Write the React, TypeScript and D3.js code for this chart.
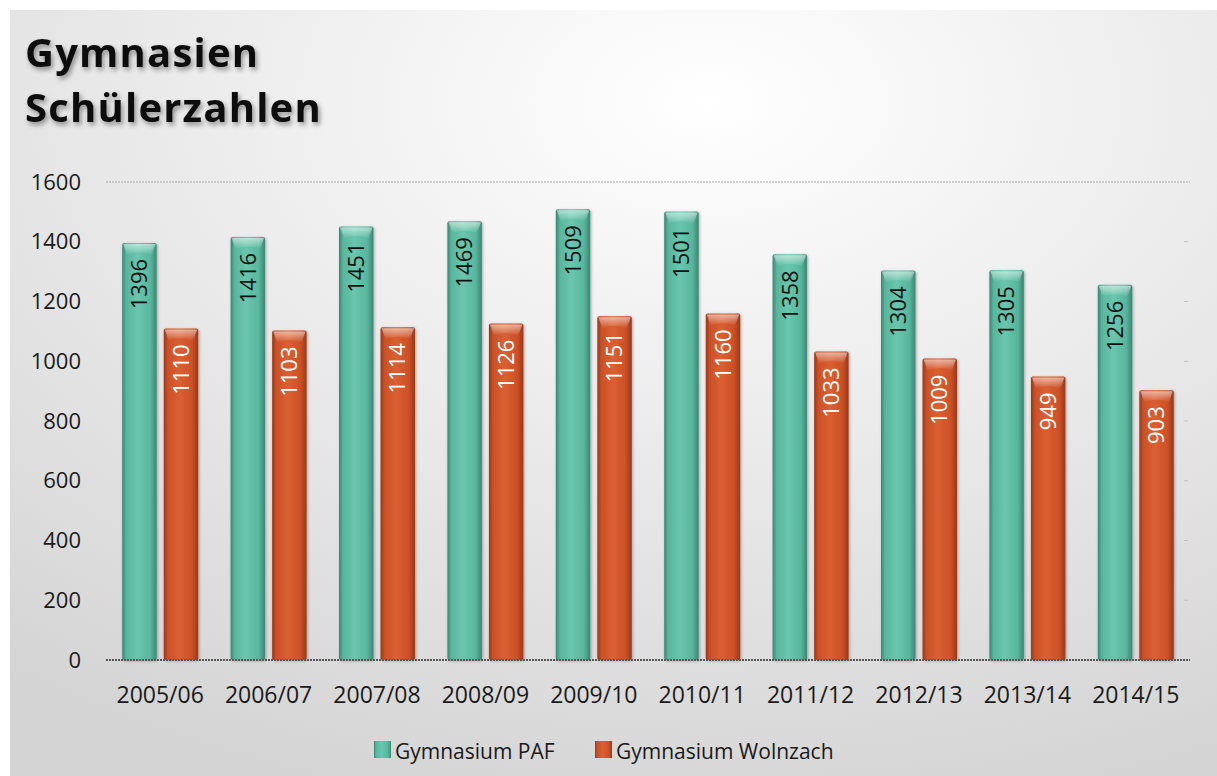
import { useEffect, useRef } from 'react';
import * as d3 from 'd3';

const categories = ['2005/06', '2006/07', '2007/08', '2008/09', '2009/10', '2010/11', '2011/12', '2012/13', '2013/14', '2014/15'];
const seriesNames = ['Gymnasium PAF', 'Gymnasium Wolnzach'];
const pafValues = [1396, 1416, 1451, 1469, 1509, 1501, 1358, 1304, 1305, 1256];
const wolnzachValues = [1110, 1103, 1114, 1126, 1151, 1160, 1033, 1009, 949, 903];
const yTicks = [0, 200, 400, 600, 800, 1000, 1200, 1400, 1600];

const W = 1217;
const H = 776;
const FONT = '"Open Sans", "DejaVu Sans", sans-serif';

const App = () => {
    const svgRef = useRef<SVGSVGElement | null>(null);

    useEffect(() => {
        if (!svgRef.current) return;
        document.body.style.margin = '0';
        const svg = d3.select(svgRef.current);
        svg.selectAll('*').remove();

        const defs = svg.append('defs');

        // panel background
        const bg = defs.append('radialGradient').attr('id', 'bg')
            .attr('cx', '58%').attr('cy', '12%').attr('r', '95%');
        bg.append('stop').attr('offset', '0%').attr('stop-color', '#ffffff');
        bg.append('stop').attr('offset', '100%').attr('stop-color', '#d4d4d4');

        const barGrad = (id: string, dark: string, mid: string, light: string) => {
            const g = defs.append('linearGradient').attr('id', id)
                .attr('x1', '0%').attr('x2', '100%').attr('y1', '0%').attr('y2', '0%');
            [[0, dark], [0.12, mid], [0.45, light], [0.82, mid], [1, dark]].forEach(([o, c]) => {
                g.append('stop').attr('offset', o as number).attr('stop-color', c as string);
            });
        };
        barGrad('gPaf', '#3a8673', '#58b69d', '#6ac6ae');
        barGrad('gWol', '#9a3818', '#cc5027', '#da6032');

        const cap = defs.append('linearGradient').attr('id', 'cap')
            .attr('x1', '0').attr('x2', '0').attr('y1', '0').attr('y2', '1');
        cap.append('stop').attr('offset', 0).attr('stop-color', '#ffffff').attr('stop-opacity', 0.55);
        cap.append('stop').attr('offset', 1).attr('stop-color', '#ffffff').attr('stop-opacity', 0);

        const shadow = defs.append('filter').attr('id', 'tshadow')
            .attr('x', '-10%').attr('y', '-20%').attr('width', '130%').attr('height', '150%');
        shadow.append('feDropShadow').attr('dx', 2).attr('dy', 3).attr('stdDeviation', 2.5)
            .attr('flood-color', '#000').attr('flood-opacity', 0.4);

        const bshadow = defs.append('filter').attr('id', 'bshadow')
            .attr('x', '-30%').attr('y', '-5%').attr('width', '160%').attr('height', '110%');
        bshadow.append('feDropShadow').attr('dx', 1).attr('dy', 1).attr('stdDeviation', 1.5)
            .attr('flood-color', '#000').attr('flood-opacity', 0.3);

        svg.append('rect').attr('width', W).attr('height', H).attr('fill', '#fff');
        svg.append('rect').attr('x', 10).attr('y', 10).attr('width', W - 10).attr('height', H - 10)
            .attr('fill', 'url(#bg)');

        // title
        const title = svg.append('text').attr('x', 25).attr('font-family', FONT)
            .attr('font-weight', 700).attr('font-size', 40).attr('letter-spacing', 1.2)
            .attr('fill', '#111').attr('filter', 'url(#tshadow)');
        title.append('tspan').attr('x', 25).attr('y', 67).text('Gymnasien');
        title.append('tspan').attr('x', 25).attr('y', 122).text('Schülerzahlen');

        const x0 = d3.scaleBand().domain(categories).range([106, 1190]);
        const x1 = d3.scaleBand().domain(seriesNames)
            .range([x0.bandwidth() / 2 - 38, x0.bandwidth() / 2 + 38]).paddingInner(0.17);
        const y = d3.scaleLinear().domain([0, 1600]).range([660, 182]);

        // top gridline
        svg.append('line').attr('x1', 106).attr('x2', 1190)
            .attr('y1', y(1600)).attr('y2', y(1600))
            .attr('stroke', '#a8a8a8').attr('stroke-width', 1).attr('stroke-dasharray', '2,1');

        // small right tick marks
        svg.append('g').selectAll('line').data(yTicks.filter(t => t > 0 && t < 1600)).join('line')
            .attr('x1', 1184).attr('x2', 1188)
            .attr('y1', d => y(d)).attr('y2', d => y(d))
            .attr('stroke', '#c0c0c0').attr('stroke-width', 1);

        // y tick labels
        svg.append('g').selectAll('text').data(yTicks).join('text')
            .attr('x', 81).attr('y', d => y(d)).attr('dy', '0.35em')
            .attr('text-anchor', 'end').attr('font-family', FONT).attr('font-size', 22)
            .attr('fill', '#1a1a1a').text(d => d);

        const rows = categories.map((c, i) => ({ c, vals: [pafValues[i], wolnzachValues[i]] }));

        const groups = svg.append('g').selectAll('g').data(rows).join('g')
            .attr('transform', d => `translate(${x0(d.c)},0)`);

        const bars = groups.selectAll('g.bar')
            .data(d => d.vals.map((v, j) => ({ name: seriesNames[j], v, j })))
            .join('g').attr('class', 'bar');

        bars.append('rect')
            .attr('x', d => x1(d.name)!).attr('y', d => y(d.v))
            .attr('width', x1.bandwidth()).attr('height', d => y(0) - y(d.v))
            .attr('rx', 2)
            .attr('fill', d => d.j === 0 ? 'url(#gPaf)' : 'url(#gWol)')
            .attr('filter', 'url(#bshadow)');

        bars.append('path')
            .attr('d', d => {
                const bx = x1(d.name)!;
                const bw = x1.bandwidth();
                const top = y(d.v);
                return `M${bx + 1},${top + 1} L${bx + bw - 1},${top + 1} L${bx + bw - 5},${top + 12} Q${bx + bw / 2},${top + 7} ${bx + 5},${top + 12} Z`;
            })
            .attr('fill', 'url(#cap)');

        bars.append('text')
            .attr('transform', d => `translate(${x1(d.name)! + x1.bandwidth() / 2},${y(d.v) + 16}) rotate(-90)`)
            .attr('text-anchor', 'end').attr('dy', '0.35em')
            .attr('font-family', FONT).attr('font-size', 22)
            .attr('fill', d => d.j === 0 ? '#111' : '#fff')
            .text(d => d.v);

        // baseline axis
        svg.append('line').attr('x1', 106).attr('x2', 1190)
            .attr('y1', y(0)).attr('y2', y(0))
            .attr('stroke', '#555').attr('stroke-width', 2).attr('stroke-dasharray', '2,1');

        // category labels
        svg.append('g').selectAll('text').data(categories).join('text')
            .attr('x', d => x0(d)! + x0.bandwidth() / 2).attr('y', 703)
            .attr('text-anchor', 'middle').attr('font-family', FONT).attr('font-size', 23)
            .attr('fill', '#1a1a1a').text(d => d);

        // legend
        const legend = [
            { name: seriesNames[0], x: 374, fill: 'url(#gPaf)' },
            { name: seriesNames[1], x: 595, fill: 'url(#gWol)' },
        ];
        const lg = svg.append('g').selectAll('g').data(legend).join('g')
            .attr('transform', d => `translate(${d.x},741)`);
        lg.append('rect').attr('width', 17).attr('height', 17).attr('fill', d => d.fill);
        lg.append('text').attr('x', 21).attr('y', 18).attr('font-family', FONT).attr('font-size', 21)
            .attr('fill', '#1a1a1a').text(d => d.name);
    }, []);

    return (
        <div style={{ position: 'absolute', left: 0, top: 0, width: W, height: H }}>
            <svg ref={svgRef} width={W} height={H} style={{ display: 'block' }} />
        </div>
    );
};

export default App;
